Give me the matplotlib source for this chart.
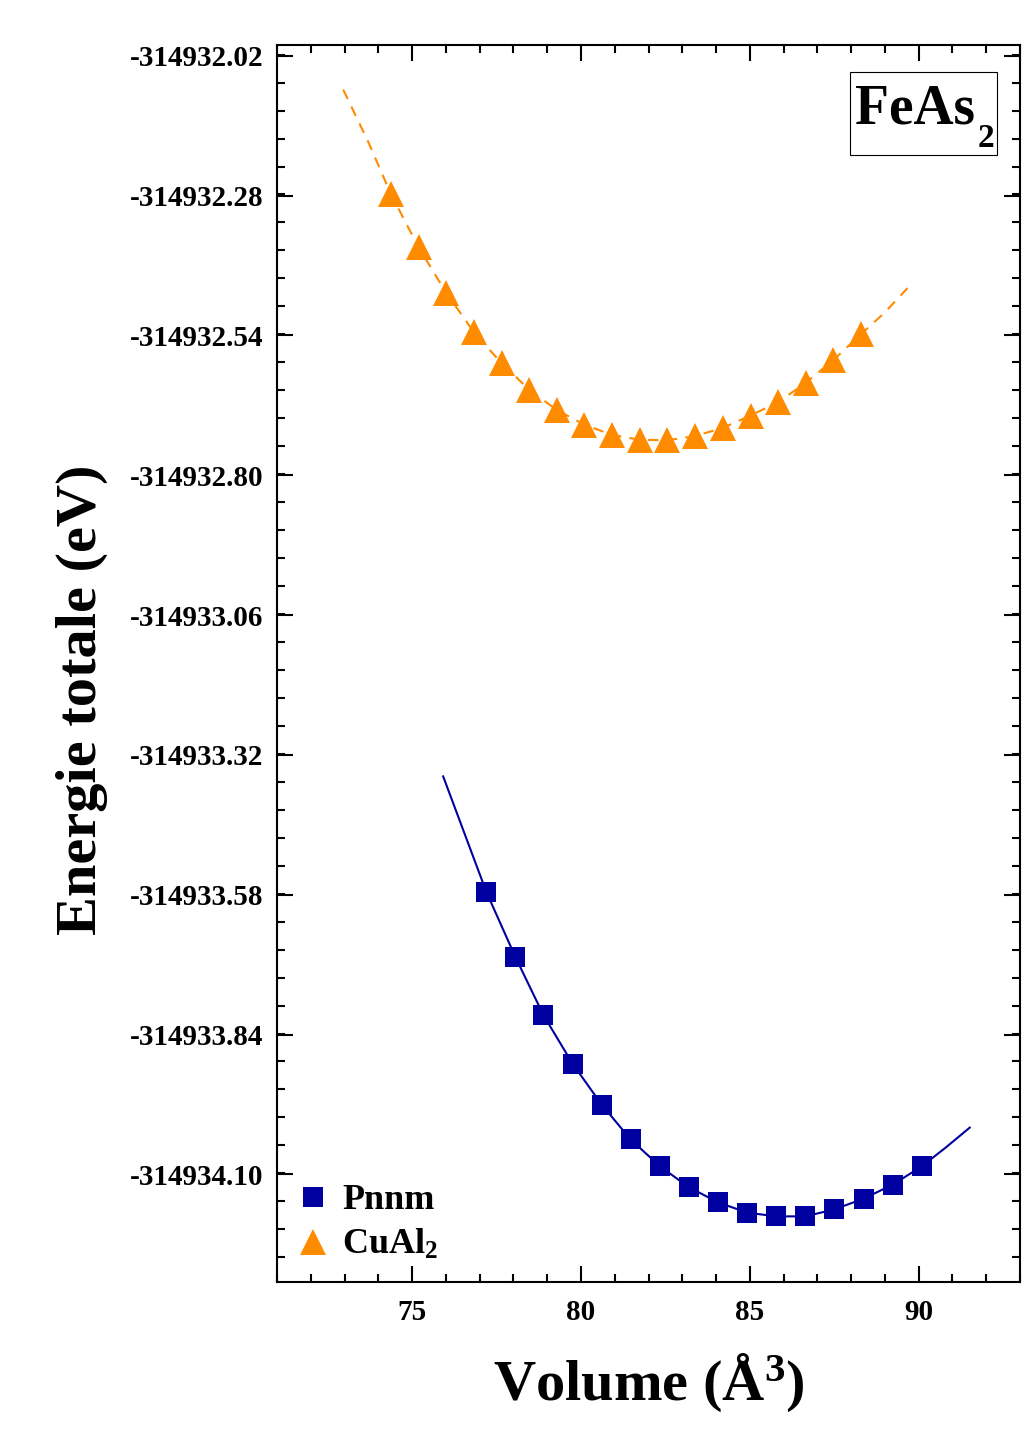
import matplotlib
matplotlib.use("Agg")
import matplotlib.pyplot as plt
from matplotlib.ticker import MultipleLocator, FormatStrFormatter
from matplotlib.patches import Rectangle
import numpy as np

plt.rcParams['font.family'] = ['Liberation Serif', 'DejaVu Serif']
plt.rcParams['font.weight'] = 'bold'
plt.rcParams['mathtext.fontset'] = 'custom'
plt.rcParams['mathtext.rm'] = 'Liberation Serif:bold'
plt.rcParams['mathtext.bf'] = 'Liberation Serif:bold'
plt.rcParams['mathtext.it'] = 'Liberation Serif:bold'

# Pnnm phase (squares)
pnnm_vol = np.array([77.20, 78.06, 78.89, 79.75, 80.61, 81.47, 82.34, 83.20,
                     84.06, 84.92, 85.78, 86.64, 87.50, 88.37, 89.23, 90.09])
pnnm_E = np.array([-314933.575, -314933.696, -314933.804, -314933.894,
                   -314933.970, -314934.035, -314934.085, -314934.124,
                   -314934.152, -314934.171, -314934.178, -314934.178,
                   -314934.165, -314934.145, -314934.119, -314934.085])
# fitted curve
pnnm_fit_vol = np.array([75.92, 77.20, 78.06, 78.89, 79.75, 80.61, 81.47, 82.34, 83.20,
                         84.06, 84.92, 85.78, 86.64, 87.50, 88.37, 89.23, 90.09, 90.80, 91.51])
pnnm_fit_E = np.array([-314933.360, -314933.575, -314933.696, -314933.804, -314933.894,
                       -314933.970, -314934.035, -314934.085, -314934.124,
                       -314934.152, -314934.171, -314934.178, -314934.178,
                       -314934.165, -314934.145, -314934.119, -314934.085,
                       -314934.050, -314934.013])

# CuAl2 phase (triangles)
cual2_vol = np.array([74.37, 75.19, 76.01, 76.82, 77.65, 78.47, 79.29, 80.10, 80.92,
                      81.74, 82.56, 83.38, 84.20, 85.02, 85.84, 86.66, 87.47, 88.29])
cual2_E = np.array([-314932.277, -314932.376, -314932.461, -314932.533, -314932.592,
                    -314932.641, -314932.679, -314932.706, -314932.725, -314932.734,
                    -314932.735, -314932.727, -314932.712, -314932.689, -314932.664,
                    -314932.628, -314932.586, -314932.538])
cual2_fit_vol = np.array([72.96, 73.70, 74.37, 75.19, 76.01, 76.82, 77.65, 78.47, 79.29,
                          80.10, 80.92, 81.74, 82.56, 83.38, 84.20, 85.02, 85.84,
                          86.66, 87.47, 88.29, 89.00, 89.67])
cual2_fit_E = np.array([-314932.083, -314932.180, -314932.277, -314932.376, -314932.461,
                        -314932.533, -314932.592, -314932.641, -314932.679, -314932.706,
                        -314932.725, -314932.734, -314932.735, -314932.727, -314932.712,
                        -314932.689, -314932.664, -314932.628, -314932.586, -314932.538,
                        -314932.497, -314932.452])

blue = '#0000A0'
orange = '#FF8C00'

fig = plt.figure(figsize=(10.34, 14.55), dpi=100)
ax = fig.add_axes([0.2679, 0.1189, 0.7186, 0.8502])

ax.plot(pnnm_fit_vol, pnnm_fit_E, '-', color=blue, lw=1.5)
ax.plot(cual2_fit_vol, cual2_fit_E, '--', color=orange, lw=1.5, dashes=(5, 4))
ax.plot(pnnm_vol, pnnm_E, 's', color=blue, ms=15, mew=0, label='Pnnm')
ax.plot(cual2_vol, cual2_E, '^', color=orange, ms=19, mew=0, label=r'CuAl$_\mathbf{2}$')

ax.set_xlim(71, 93)
ax.set_ylim(-314934.30, -314932.00)
ax.xaxis.set_major_locator(MultipleLocator(5))
ax.xaxis.set_minor_locator(MultipleLocator(1))
ax.set_yticks(np.array([-314934.10, -314933.84, -314933.58, -314933.32,
                        -314933.06, -314932.80, -314932.54, -314932.28, -314932.02]))
ax.set_yticks(np.arange(-314934.254, -314932.00, 0.052), minor=True)
ax.yaxis.set_major_formatter(FormatStrFormatter('%.2f'))

ax.tick_params(which='both', direction='in', top=True, right=True, width=1.5)
ax.tick_params(which='major', length=11.5, labelsize=21)
ax.tick_params(axis='y', which='major', pad=10)
ax.tick_params(axis='x', which='major', pad=12)
ax.tick_params(which='minor', length=5.8)
for s in ax.spines.values():
    s.set_linewidth(1.5)

ax.set_xlabel(r'Volume (Å$^\mathbf{3}$)', fontsize=42, fontweight='bold', labelpad=19)
ax.set_ylabel('Energie totale (eV)', fontsize=42, fontweight='bold')
ax.yaxis.set_label_coords(-0.227, 0.4705)

# FeAs2 label box
ax.add_patch(Rectangle((0.7712, 0.9111), 0.1978, 0.0671, transform=ax.transAxes,
                       fc='white', ec='black', lw=0.8, zorder=5))
ax.text(0.9394, 0.9369, 'FeAs', transform=ax.transAxes, fontsize=40,
        fontweight='bold', ha='right', va='baseline', zorder=6)
ax.text(0.9435, 0.9175, '2', transform=ax.transAxes, fontsize=24,
        fontweight='bold', ha='left', va='baseline', zorder=6)

ax.legend(loc='lower left', bbox_to_anchor=(0.0, 0.0), frameon=False, fontsize=26,
          numpoints=1, handlelength=0.9, handletextpad=0.35, labelspacing=0.3,
          borderaxespad=0.25, borderpad=0.3)

fig.savefig("out.png", dpi=100)
